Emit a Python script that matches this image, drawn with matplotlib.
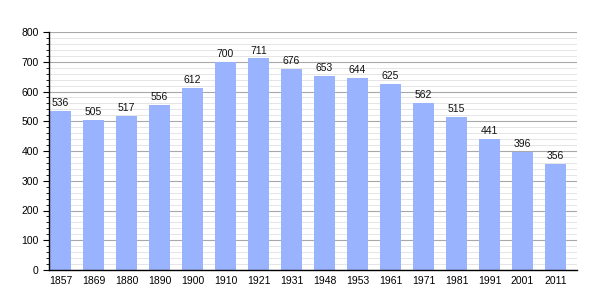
import matplotlib
matplotlib.use("Agg")
import matplotlib.pyplot as plt
from matplotlib.ticker import MultipleLocator

plt.rcParams['font.family'] = ['Liberation Sans', 'DejaVu Sans']

years = ["1857", "1869", "1880", "1890", "1900", "1910", "1921", "1931",
         "1948", "1953", "1961", "1971", "1981", "1991", "2001", "2011"]
population = [536, 505, 517, 556, 612, 700, 711, 676, 653, 644, 625, 562, 515, 441, 396, 356]

fig = plt.figure(figsize=(6.05, 3.0), dpi=100)
ax = fig.add_axes([49/605, 30/300, (577-49)/605, (270-32)/300])

x = list(range(len(years)))
ax.set_ylim(0, 800)
ax.set_xlim(-0.35, len(years) - 0.35)
ax.yaxis.set_major_locator(MultipleLocator(100))
ax.yaxis.set_minor_locator(MultipleLocator(20))
ax.grid(which="major", axis="y", color="#a8a8a8", linewidth=0.8)
ax.grid(which="minor", axis="y", color="#e0e0e0", linewidth=0.6)
ax.set_axisbelow(True)

ax.bar(x, population, width=0.64, color="#99b3ff", zorder=2)
for xi, v in zip(x, population):
    ax.text(xi, v + 10, str(v), ha="center", va="bottom", fontsize=7.5, color="#111111")

ax.set_xticks(x)
ax.set_xticklabels(years)
ax.tick_params(axis="x", length=0, labelsize=7.5, pad=4)
ax.tick_params(axis="y", which="major", length=4, labelsize=7.5, direction="out")
ax.tick_params(axis="y", which="minor", length=2, direction="out")
for s in ["top", "right"]:
    ax.spines[s].set_visible(False)
ax.spines["left"].set_linewidth(1.0)
ax.spines["bottom"].set_linewidth(1.0)

fig.savefig("out.png", dpi=100)
